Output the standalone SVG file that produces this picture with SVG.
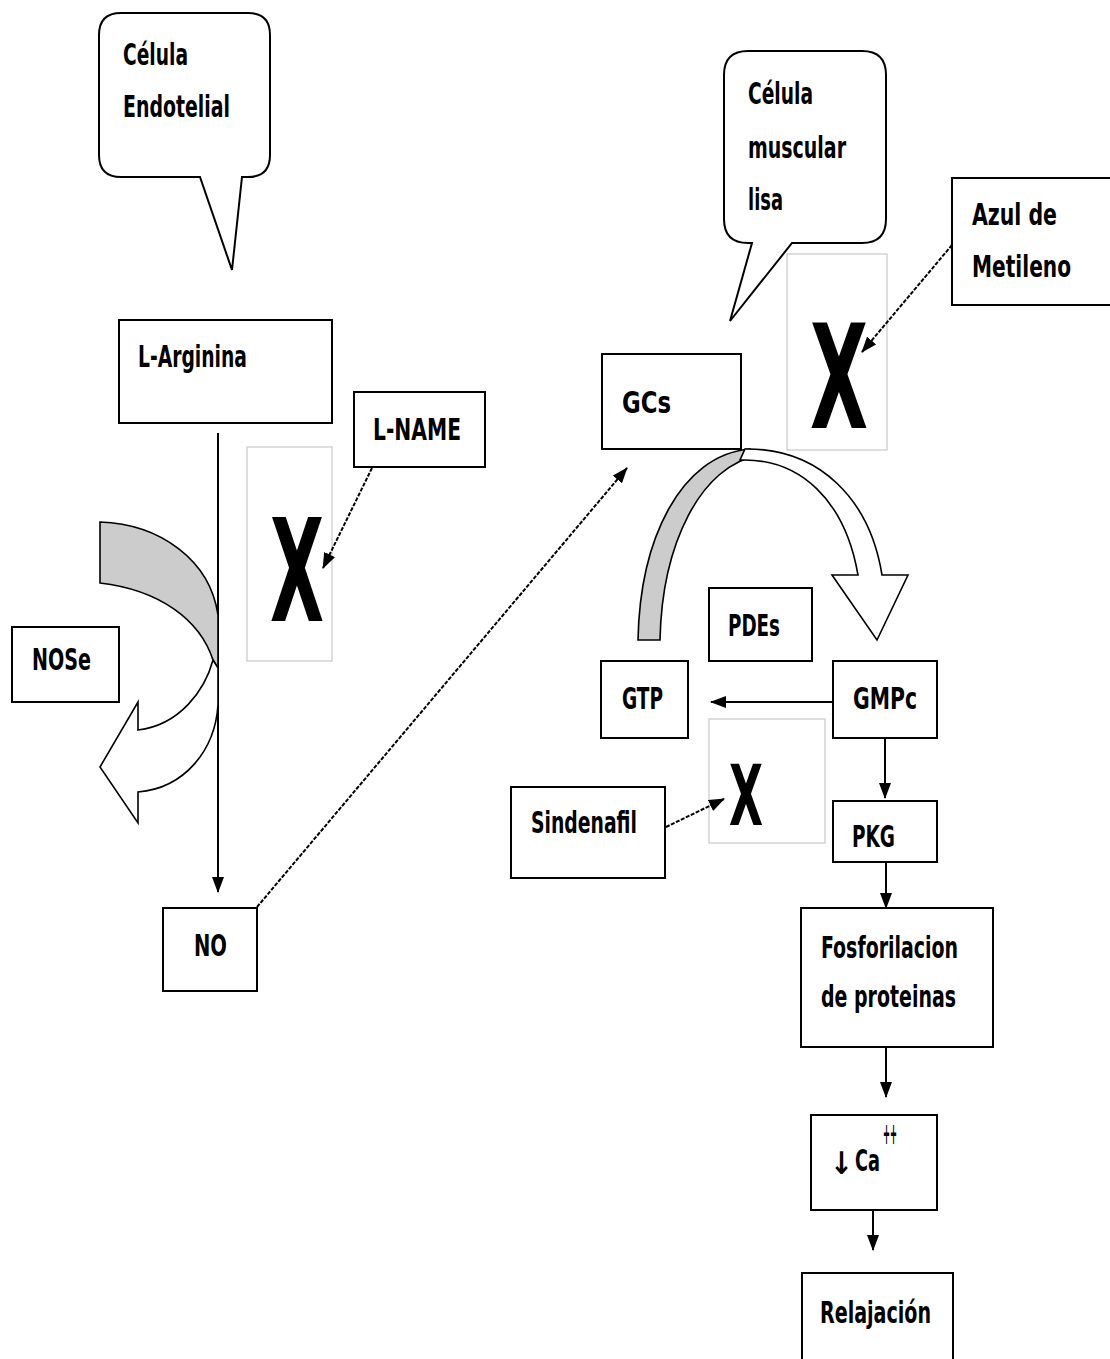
<svg xmlns="http://www.w3.org/2000/svg" width="1110" height="1359" viewBox="0 0 1110 1359">
<style>
.box{fill:#fff;stroke:#000;stroke-width:2}
.xbox{fill:#fff;stroke:#c8c8c8;stroke-width:1.2}
.t{font-family:"DejaVu Sans Condensed","Liberation Sans",sans-serif;font-size:31px;font-weight:bold;fill:#000}
.x{font-family:"DejaVu Sans","Liberation Sans",sans-serif;font-weight:bold;fill:#000}
.ln{stroke:#000;stroke-width:2;fill:none}
.dl{stroke:#000;stroke-width:2;fill:none;stroke-dasharray:4 1.5}
.cg{fill:#cccccc;stroke:#000;stroke-width:1.6}
.cw{fill:#fff;stroke:#000;stroke-width:1.6}
</style>
<defs>
<marker id="ah" markerWidth="16" markerHeight="12" refX="15" refY="6" orient="auto" markerUnits="userSpaceOnUse">
<path d="M0,0 L16,6 L0,12 Z" fill="#000"/>
</marker>
</defs>
<rect width="1110" height="1359" fill="#fff"/>

<g id="callout-endotelial">
<path class="box" d="M121,13 H248 Q270,13 270,35 V155 Q270,177 248,177 H242 L232,270 L200,177 H121 Q99,177 99,155 V35 Q99,13 121,13 Z"/>
<text class="t" x="123" y="65" textLength="65" lengthAdjust="spacingAndGlyphs">Célula</text>
<text class="t" x="123" y="117" textLength="107" lengthAdjust="spacingAndGlyphs">Endotelial</text>
</g>

<g id="callout-muscular">
<path class="box" d="M748,51 H862 Q886,51 886,75 V219 Q886,243 862,243 H792 L730,321 L752,243 H748 Q724,243 724,219 V75 Q724,51 748,51 Z"/>
<text class="t" x="748" y="104" textLength="65" lengthAdjust="spacingAndGlyphs">Célula</text>
<text class="t" x="748" y="158" textLength="98" lengthAdjust="spacingAndGlyphs">muscular</text>
<text class="t" x="748" y="210" textLength="35" lengthAdjust="spacingAndGlyphs">lisa</text>
</g>

<g id="x-lname">
<rect class="xbox" x="247" y="447" width="85" height="214"/>
<text class="x" x="270" y="621" font-size="142" textLength="54" lengthAdjust="spacingAndGlyphs">X</text>
</g>
<g id="x-azul">
<rect class="xbox" x="787" y="254" width="100" height="196"/>
<text class="x" x="810" y="428" font-size="145" textLength="58" lengthAdjust="spacingAndGlyphs">X</text>
</g>
<g id="x-sindenafil">
<rect class="xbox" x="709" y="719" width="116" height="124"/>
<text class="x" x="729" y="825" font-size="83" textLength="34" lengthAdjust="spacingAndGlyphs">X</text>
</g>

<g id="l-arginina">
<rect class="box" x="119" y="320" width="213" height="103"/>
<text class="t" x="138" y="367" textLength="109" lengthAdjust="spacingAndGlyphs">L-Arginina</text>
</g>
<g id="l-name">
<rect class="box" x="354" y="392" width="131" height="75"/>
<text class="t" x="373" y="440" textLength="88" lengthAdjust="spacingAndGlyphs">L-NAME</text>
</g>
<g id="nose">
<rect class="box" x="12" y="627" width="107" height="75"/>
<text class="t" x="32" y="670" textLength="59" lengthAdjust="spacingAndGlyphs">NOSe</text>
</g>
<g id="no">
<rect class="box" x="163" y="908" width="94" height="83"/>
<text class="t" x="194" y="956" textLength="33" lengthAdjust="spacingAndGlyphs">NO</text>
</g>
<g id="azul">
<rect class="box" x="952" y="178" width="160" height="127"/>
<text class="t" x="972" y="225" textLength="85" lengthAdjust="spacingAndGlyphs">Azul  de</text>
<text class="t" x="972" y="277" textLength="99" lengthAdjust="spacingAndGlyphs">Metileno</text>
</g>
<g id="gcs">
<rect class="box" x="602" y="354" width="139" height="95"/>
<text class="t" x="622" y="413" font-size="36" textLength="49" lengthAdjust="spacingAndGlyphs">GCs</text>
</g>
<g id="pdes">
<rect class="box" x="709" y="588" width="103" height="73"/>
<text class="t" x="728" y="636" textLength="52" lengthAdjust="spacingAndGlyphs">PDEs</text>
</g>
<g id="gtp">
<rect class="box" x="601" y="661" width="87" height="77"/>
<text class="t" x="622" y="709" textLength="41" lengthAdjust="spacingAndGlyphs">GTP</text>
</g>
<g id="gmpc">
<rect class="box" x="833" y="661" width="104" height="77"/>
<text class="t" x="853" y="709" textLength="64" lengthAdjust="spacingAndGlyphs">GMPc</text>
</g>
<g id="sindenafil">
<rect class="box" x="511" y="787" width="154" height="91"/>
<text class="t" x="531" y="833" textLength="106" lengthAdjust="spacingAndGlyphs">Sindenafil</text>
</g>
<g id="pkg">
<rect class="box" x="833" y="801" width="104" height="61"/>
<text class="t" x="852" y="847" textLength="43" lengthAdjust="spacingAndGlyphs">PKG</text>
</g>
<g id="fosforilacion">
<rect class="box" x="801" y="908" width="192" height="139"/>
<text class="t" x="821" y="958" textLength="137" lengthAdjust="spacingAndGlyphs">Fosforilacion</text>
<text class="t" x="821" y="1007" textLength="135" lengthAdjust="spacingAndGlyphs">de proteinas</text>
</g>
<g id="calcio">
<rect class="box" x="811" y="1115" width="126" height="95"/>
<text class="t" x="830" y="1174" font-size="40" textLength="23" lengthAdjust="spacingAndGlyphs">↓</text>
<text class="t" x="855" y="1171" textLength="25" lengthAdjust="spacingAndGlyphs">Ca</text>
<text class="t" x="883" y="1144" font-size="13" textLength="14" lengthAdjust="spacingAndGlyphs">++</text>
</g>
<g id="relajacion">
<rect class="box" x="802" y="1273" width="151" height="100"/>
<text class="t" x="820" y="1323" textLength="111" lengthAdjust="spacingAndGlyphs">Relajación</text>
</g>

<g id="connectors">
<line class="ln" x1="218" y1="433" x2="218" y2="892" marker-end="url(#ah)"/>
<line class="dl" x1="372" y1="468" x2="323" y2="568" marker-end="url(#ah)"/>
<line class="dl" x1="257" y1="907" x2="627" y2="468" marker-end="url(#ah)"/>
<line class="dl" x1="952" y1="245" x2="862" y2="352" marker-end="url(#ah)"/>
<line class="dl" x1="666" y1="827" x2="724" y2="799" marker-end="url(#ah)"/>
<line class="ln" x1="833" y1="702" x2="711" y2="702" marker-end="url(#ah)"/>
<line class="ln" x1="885" y1="738" x2="885" y2="798" marker-end="url(#ah)"/>
<line class="ln" x1="886" y1="862" x2="886" y2="908" marker-end="url(#ah)"/>
<line class="ln" x1="886" y1="1047" x2="886" y2="1097" marker-end="url(#ah)"/>
<line class="ln" x1="873" y1="1210" x2="873" y2="1250" marker-end="url(#ah)"/>
</g>

<g id="curved-arrow-nose">
<path class="cg" d="M100,522 C160,524 210,560 218,615 L218,668 L213,660 C200,620 160,590 100,583 Z"/>
<path class="cw" d="M213,660 C205,690 180,725 138,730 L138,702 L100,767 L138,823 L138,792 C185,788 215,750 218,705 L218,668 Z"/>
</g>
<g id="curved-arrow-gcs">
<path class="cg" d="M638,640 C640,540 680,455 750,449 L760,455 C700,465 662,545 660,640 Z"/>
<path class="cw" d="M745,449 C820,448 870,500 882,575 L908,575 L877,640 L832,575 L858,575 C845,500 800,458 740,460 Z"/>
</g>
</svg>
